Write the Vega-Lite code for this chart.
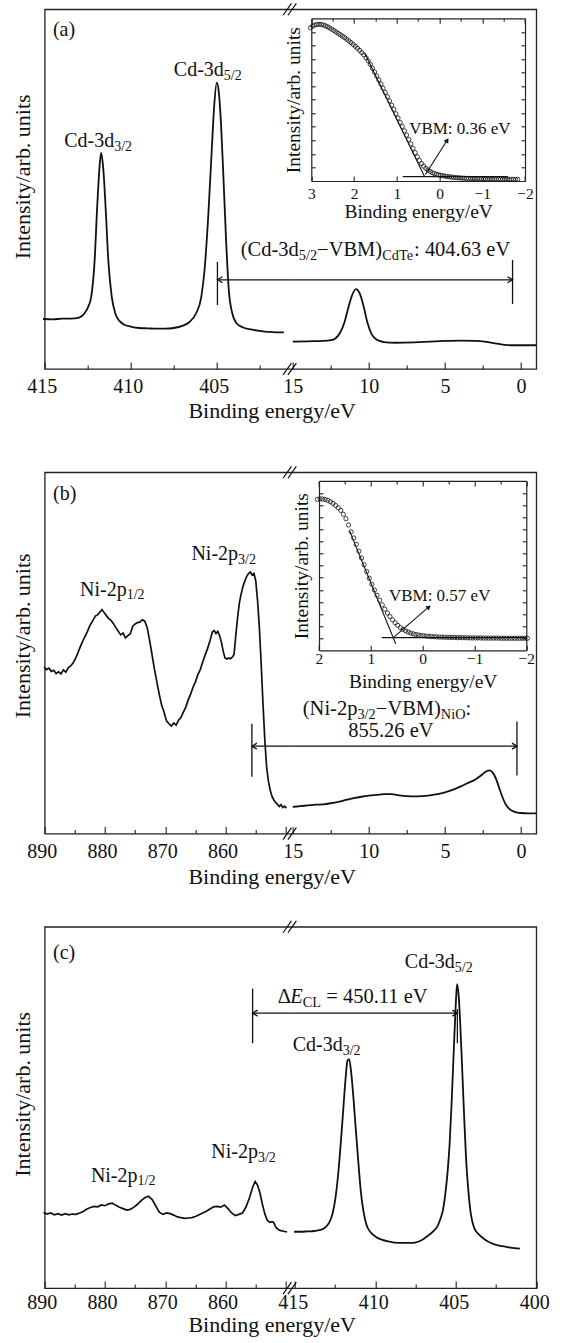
{
"$schema": "https://vega.github.io/schema/vega-lite/v6.json",
"padding": {"left": 10.7, "top": 0.3, "right": 5, "bottom": 5},
"config": {"font": "Liberation Serif", "view": {"stroke": "#222", "strokeWidth": 1.3},
 "axis": {"labelFont": "Liberation Serif", "titleFont": "Liberation Serif", "labelColor": "#111", "titleColor": "#111", "tickColor": "#222", "domainColor": "#222", "grid": false, "titleFontWeight": "normal", "labelFlush": false, "labelOverlap": false, "tickWidth": 1.1, "domainWidth": 1.2}},
"spacing": 29.5,
"vconcat": [
{"spacing": 40,
 "vconcat": [
{
 "width": 491.6, "height": 359.7,
 "resolve": {"scale": {"x": "independent", "y": "independent"}},
 "layer": [
  {"resolve": {"axis": {"x": "independent", "y": "independent"}},
   "layer": [
    {"data": {"values": [{"e":415.1,"i":13.9},{"e":414.5,"i":13.8},{"e":414.0,"i":14.0},{"e":413.5,"i":14.0},{"e":413.0,"i":14.3},{"e":412.7,"i":15.4},{"e":412.5,"i":17.0},{"e":412.3,"i":20},{"e":412.1,"i":30},{"e":411.95,"i":45},{"e":411.8,"i":57},{"e":411.72,"i":60.1},{"e":411.6,"i":56},{"e":411.45,"i":44},{"e":411.3,"i":30},{"e":411.1,"i":20},{"e":410.9,"i":15.5},{"e":410.7,"i":13.6},{"e":410.4,"i":12.4},{"e":410.0,"i":11.8},{"e":409.5,"i":11.4},{"e":409.0,"i":11.3},{"e":408.5,"i":11.2},{"e":408.0,"i":11.2},{"e":407.5,"i":11.4},{"e":407.0,"i":12.0},{"e":406.6,"i":13.0},{"e":406.2,"i":15.5},{"e":405.9,"i":20},{"e":405.7,"i":28},{"e":405.5,"i":42},{"e":405.3,"i":60},{"e":405.15,"i":73},{"e":405.0,"i":79.6},{"e":404.88,"i":77},{"e":404.75,"i":68},{"e":404.6,"i":52},{"e":404.45,"i":35},{"e":404.3,"i":22},{"e":404.1,"i":15.5},{"e":403.85,"i":12.7},{"e":403.5,"i":11.6},{"e":403.0,"i":11.0},{"e":402.5,"i":10.6},{"e":402.0,"i":10.3},{"e":401.5,"i":10.2},{"e":401.1,"i":10.2}]},
     "mark": {"type": "line", "interpolate": "monotone", "color": "#111", "strokeWidth": 1.8},
     "encoding": {
      "x": {"field": "e", "type": "quantitative", "scale": {"domain": [415, 400.76], "range": [0, 245], "nice": false, "zero": false},
            "axis": {"orient": "bottom", "values": [415,412.5,410,407.5,405,402.5], "format": "d", "labelExpr": "datum.value % 5 === 0 ? datum.label : ''", "tickSize": {"condition": {"test": "datum.value % 5 === 0", "value": -7}, "value": -4}, "domain": false, "labelFontSize": 20, "labelBaseline": "middle", "labelPadding": 24.7, "labelOffset": -3, "title": "Binding energy/eV", "titleFontSize": 22, "titleX": 227, "titleY": 42, "titleBaseline": "middle", "titleAlign": "center"}},
      "y": {"field": "i", "type": "quantitative", "scale": {"domain": [0, 100], "nice": false, "zero": false},
            "axis": {"orient": "left", "ticks": false, "labels": false, "domain": false, "title": "Intensity/arb. units", "titleFontSize": 22, "titleX": -22.3, "titleY": 167, "titleBaseline": "middle", "titleAlign": "center", "titleAngle": 270}}
     }},
    {"data": {"values": [{"e":414.52,"i":92.6,"t":"(a)"}]},
     "mark": {"type": "text", "fontSize": 20, "align": "left", "baseline": "alphabetic", "color": "#111"},
     "encoding": {"x": {"field": "e", "type": "quantitative", "scale": {"domain": [415, 400.76], "range": [0, 245], "nice": false, "zero": false}, "axis": null},
                  "y": {"field": "i", "type": "quantitative", "scale": {"domain": [0, 100], "nice": false, "zero": false}, "axis": null}, "text": {"field": "t"}}},
    {"data": {"values": [{"e":404.59,"i":81.5,"t":"Cd-3d"},{"e":410.96,"i":61.8,"t":"Cd-3d"}]},
     "mark": {"type": "text", "fontSize": 20, "align": "right", "baseline": "alphabetic", "color": "#111"},
     "encoding": {"x": {"field": "e", "type": "quantitative", "scale": {"domain": [415, 400.76], "range": [0, 245], "nice": false, "zero": false}, "axis": null},
                  "y": {"field": "i", "type": "quantitative", "scale": {"domain": [0, 100], "nice": false, "zero": false}, "axis": null}, "text": {"field": "t"}}},
    {"data": {"values": [{"e":404.59,"i":80.4,"t":"5/2"},{"e":410.96,"i":60.7,"t":"3/2"}]},
     "mark": {"type": "text", "fontSize": 14, "align": "left", "baseline": "alphabetic", "color": "#111"},
     "encoding": {"x": {"field": "e", "type": "quantitative", "scale": {"domain": [415, 400.76], "range": [0, 245], "nice": false, "zero": false}, "axis": null},
                  "y": {"field": "i", "type": "quantitative", "scale": {"domain": [0, 100], "nice": false, "zero": false}, "axis": null}, "text": {"field": "t"}}},
    {"data": {"values": [{"e":404.96,"e2":400.76,"i":24.8,"i2":24.8},{"e":404.96,"e2":404.96,"i":29.8,"i2":17.8}]},
     "mark": {"type": "rule", "color": "#111", "strokeWidth": 1.3},
     "encoding": {"x": {"field": "e", "type": "quantitative", "scale": {"domain": [415, 400.76], "range": [0, 245], "nice": false, "zero": false}, "axis": null}, "x2": {"field": "e2"},
                  "y": {"field": "i", "type": "quantitative", "scale": {"domain": [0, 100], "nice": false, "zero": false}, "axis": null}, "y2": {"field": "i2"}}},
    {"data": {"values": [{"e":404.96,"i":24.8}]},
     "mark": {"type": "point", "shape": "M1,-0.6L0,0L1,0.6", "filled": false, "stroke": "#111", "strokeWidth": 1.3, "size": 100, "opacity": 1},
     "encoding": {"x": {"field": "e", "type": "quantitative", "scale": {"domain": [415, 400.76], "range": [0, 245], "nice": false, "zero": false}, "axis": null},
                  "y": {"field": "i", "type": "quantitative", "scale": {"domain": [0, 100], "nice": false, "zero": false}, "axis": null}}},
    {"data": {"values": [{"e":400.76,"i":100},{"e":400.76,"i":0}]},
     "mark": {"type": "point", "shape": "M-0.95,0.85L0.25,-0.85M-0.25,0.85L0.95,-0.85", "filled": false, "stroke": "#111", "strokeWidth": 1.2, "size": 196, "opacity": 1},
     "encoding": {"x": {"field": "e", "type": "quantitative", "scale": {"domain": [415, 400.76], "range": [0, 245], "nice": false, "zero": false}, "axis": null},
                  "y": {"field": "i", "type": "quantitative", "scale": {"domain": [0, 100], "nice": false, "zero": false}, "axis": null}}}
  ]},
  {"resolve": {"axis": {"x": "independent", "y": "independent"}},
   "layer": [
    {"data": {"values": [{"e":15.0,"i":7.6},{"e":14.0,"i":7.7},{"e":13.0,"i":7.8},{"e":12.5,"i":8.0},{"e":12.2,"i":8.5},{"e":11.9,"i":10},{"e":11.6,"i":13},{"e":11.35,"i":17},{"e":11.1,"i":20.5},{"e":10.85,"i":22.2},{"e":10.6,"i":21},{"e":10.35,"i":17.5},{"e":10.1,"i":13},{"e":9.85,"i":10},{"e":9.6,"i":8.5},{"e":9.3,"i":7.8},{"e":9.0,"i":7.5},{"e":8.3,"i":7.3},{"e":7.0,"i":7.4},{"e":6.0,"i":7.6},{"e":5.0,"i":7.8},{"e":4.0,"i":7.9},{"e":3.0,"i":7.8},{"e":2.4,"i":7.6},{"e":1.8,"i":7.2},{"e":1.2,"i":6.8},{"e":0.5,"i":6.6},{"e":-1.0,"i":6.6}]},
     "mark": {"type": "line", "interpolate": "monotone", "color": "#111", "strokeWidth": 1.8},
     "encoding": {
      "x": {"field": "e", "type": "quantitative", "scale": {"domain": [15.2, -1], "range": [245, 491.6], "nice": false, "zero": false},
            "axis": {"orient": "bottom", "values": [15,12.5,10,7.5,5,2.5,0], "format": "d", "labelExpr": "datum.value % 5 === 0 ? datum.label : ''", "tickSize": {"condition": {"test": "datum.value % 5 === 0", "value": -7}, "value": -4}, "domain": false, "labelFontSize": 20, "labelBaseline": "middle", "labelPadding": 24.7, "title": null}},
      "y": {"field": "i", "type": "quantitative", "scale": {"domain": [0, 100], "nice": false, "zero": false}, "axis": null}
     }},
    {"data": {"values": [{"e":18.42,"i":31.4,"t":"(Cd-3d"},{"e":13.40,"i":31.4,"t":"−VBM)"},{"e":7.03,"i":31.4,"t":": 404.63 eV"}]},
     "mark": {"type": "text", "fontSize": 20.5, "align": "left", "baseline": "alphabetic", "color": "#111"},
     "encoding": {"x": {"field": "e", "type": "quantitative", "scale": {"domain": [15.2, -1], "range": [245, 491.6], "nice": false, "zero": false}, "axis": null},
                  "y": {"field": "i", "type": "quantitative", "scale": {"domain": [0, 100], "nice": false, "zero": false}, "axis": null}, "text": {"field": "t"}}},
    {"data": {"values": [{"e":14.60,"i":30.3,"t":"5/2"},{"e":9.12,"i":30.3,"t":"CdTe"}]},
     "mark": {"type": "text", "fontSize": 14.3, "align": "left", "baseline": "alphabetic", "color": "#111"},
     "encoding": {"x": {"field": "e", "type": "quantitative", "scale": {"domain": [15.2, -1], "range": [245, 491.6], "nice": false, "zero": false}, "axis": null},
                  "y": {"field": "i", "type": "quantitative", "scale": {"domain": [0, 100], "nice": false, "zero": false}, "axis": null}, "text": {"field": "t"}}},
    {"data": {"values": [{"e":15.2,"e2":0.56,"i":24.8,"i2":24.8},{"e":0.56,"e2":0.56,"i":30.3,"i2":18.1}]},
     "mark": {"type": "rule", "color": "#111", "strokeWidth": 1.3},
     "encoding": {"x": {"field": "e", "type": "quantitative", "scale": {"domain": [15.2, -1], "range": [245, 491.6], "nice": false, "zero": false}, "axis": null}, "x2": {"field": "e2"},
                  "y": {"field": "i", "type": "quantitative", "scale": {"domain": [0, 100], "nice": false, "zero": false}, "axis": null}, "y2": {"field": "i2"}}},
    {"data": {"values": [{"e":0.56,"i":24.8}]},
     "mark": {"type": "point", "shape": "M-1,-0.6L0,0L-1,0.6", "filled": false, "stroke": "#111", "strokeWidth": 1.3, "size": 100, "opacity": 1},
     "encoding": {"x": {"field": "e", "type": "quantitative", "scale": {"domain": [15.2, -1], "range": [245, 491.6], "nice": false, "zero": false}, "axis": null},
                  "y": {"field": "i", "type": "quantitative", "scale": {"domain": [0, 100], "nice": false, "zero": false}, "axis": null}}}
  ]},
  {"resolve": {"axis": {"x": "independent", "y": "independent"}},
   "layer": [
    {"data": {"values": [{"e":3.02,"i":0.942},{"e":2.97,"i":0.952},{"e":2.92,"i":0.958},{"e":2.87,"i":0.962},{"e":2.82,"i":0.963},{"e":2.77,"i":0.962},{"e":2.72,"i":0.959},{"e":2.67,"i":0.954},{"e":2.62,"i":0.948},{"e":2.57,"i":0.941},{"e":2.52,"i":0.933},{"e":2.47,"i":0.925},{"e":2.42,"i":0.916},{"e":2.37,"i":0.907},{"e":2.32,"i":0.899},{"e":2.27,"i":0.890},{"e":2.22,"i":0.881},{"e":2.17,"i":0.871},{"e":2.12,"i":0.861},{"e":2.07,"i":0.851},{"e":2.02,"i":0.839},{"e":1.97,"i":0.828},{"e":1.92,"i":0.816},{"e":1.87,"i":0.803},{"e":1.82,"i":0.789},{"e":1.77,"i":0.775},{"e":1.72,"i":0.758},{"e":1.67,"i":0.738},{"e":1.62,"i":0.717},{"e":1.57,"i":0.694},{"e":1.52,"i":0.670},{"e":1.47,"i":0.645},{"e":1.42,"i":0.621},{"e":1.37,"i":0.596},{"e":1.32,"i":0.570},{"e":1.27,"i":0.544},{"e":1.22,"i":0.518},{"e":1.17,"i":0.492},{"e":1.12,"i":0.466},{"e":1.07,"i":0.441},{"e":1.02,"i":0.413},{"e":0.97,"i":0.387},{"e":0.92,"i":0.360},{"e":0.87,"i":0.335},{"e":0.82,"i":0.308},{"e":0.77,"i":0.282},{"e":0.72,"i":0.255},{"e":0.67,"i":0.228},{"e":0.62,"i":0.201},{"e":0.57,"i":0.174},{"e":0.52,"i":0.149},{"e":0.47,"i":0.126},{"e":0.42,"i":0.107},{"e":0.37,"i":0.091},{"e":0.32,"i":0.078},{"e":0.27,"i":0.068},{"e":0.22,"i":0.059},{"e":0.17,"i":0.051},{"e":0.12,"i":0.046},{"e":0.07,"i":0.041},{"e":0.02,"i":0.038},{"e":-0.03,"i":0.035},{"e":-0.08,"i":0.032},{"e":-0.13,"i":0.030},{"e":-0.18,"i":0.028},{"e":-0.23,"i":0.026},{"e":-0.28,"i":0.024},{"e":-0.33,"i":0.022},{"e":-0.38,"i":0.021},{"e":-0.43,"i":0.020},{"e":-0.48,"i":0.019},{"e":-0.53,"i":0.018},{"e":-0.58,"i":0.017},{"e":-0.63,"i":0.016},{"e":-0.68,"i":0.016},{"e":-0.73,"i":0.015},{"e":-0.78,"i":0.015},{"e":-0.83,"i":0.014},{"e":-0.88,"i":0.014},{"e":-0.93,"i":0.013},{"e":-0.98,"i":0.013},{"e":-1.03,"i":0.012},{"e":-1.08,"i":0.012},{"e":-1.13,"i":0.012},{"e":-1.18,"i":0.012},{"e":-1.23,"i":0.011},{"e":-1.28,"i":0.011},{"e":-1.33,"i":0.011},{"e":-1.38,"i":0.011},{"e":-1.43,"i":0.011},{"e":-1.48,"i":0.010},{"e":-1.53,"i":0.010},{"e":-1.58,"i":0.010},{"e":-1.63,"i":0.010},{"e":-1.68,"i":0.010},{"e":-1.73,"i":0.010},{"e":-1.78,"i":0.010},{"e":-1.83,"i":0.010}]},
     "mark": {"type": "point", "shape": "circle", "filled": false, "stroke": "#111", "strokeWidth": 0.8, "size": 18, "opacity": 1},
     "encoding": {
      "x": {"field": "e", "type": "quantitative", "scale": {"domain": [3, -2], "range": [266.6, 480.3], "nice": false, "zero": false},
            "axis": {"orient": "bottom", "offset": -188, "values": [3,2.5,2,1.5,1,0.5,0,-0.5,-1,-1.5,-2], "format": "d", "labelExpr": "datum.value % 1 === 0 ? datum.label : ''", "tickSize": {"condition": {"test": "datum.value % 1 === 0", "value": -5}, "value": -3}, "domain": true, "labelFontSize": 15.5, "labelBaseline": "middle", "labelPadding": 17, "title": "Binding energy/eV", "titleFontSize": 19.5, "titleY": 30.7, "titleBaseline": "middle"}},
      "y": {"field": "i", "type": "quantitative", "scale": {"domain": [0, 1], "range": [171.7, 9], "nice": false, "zero": false},
            "axis": {"orient": "left", "offset": -266.6, "values": [0.0833,0.1667,0.25,0.3333,0.4167,0.5,0.5833,0.6667,0.75,0.8333,0.9167], "tickSize": -4, "labels": false, "domain": true, "title": "Intensity/arb. units", "titleFontSize": 19.5, "titleX": -17.3, "titleBaseline": "middle", "titleAngle": 270}}
     }},
    {"data": {"values": [{"e":1.75,"e2":0.35,"i":0.785,"i2":0.027},{"e":0.86,"e2":-1.6,"i":0.027,"i2":0.027},{"e":0.33,"e2":-0.18,"i":0.04,"i2":0.25}]},
     "mark": {"type": "rule", "color": "#111", "strokeWidth": 1.1},
     "encoding": {
      "x": {"field": "e", "type": "quantitative", "scale": {"domain": [3, -2], "range": [266.6, 480.3], "nice": false, "zero": false},
            "axis": {"orient": "top", "offset": -9, "values": [3,2.5,2,1.5,1,0.5,0,-0.5,-1,-1.5,-2], "tickSize": {"condition": {"test": "datum.value % 1 === 0", "value": -5}, "value": -3}, "labels": false, "domain": true, "title": null}},
      "x2": {"field": "e2"},
      "y": {"field": "i", "type": "quantitative", "scale": {"domain": [0, 1], "range": [171.7, 9], "nice": false, "zero": false},
            "axis": {"orient": "right", "offset": -11.3, "values": [0.0833,0.1667,0.25,0.3333,0.4167,0.5,0.5833,0.6667,0.75,0.8333,0.9167], "tickSize": -4, "labels": false, "domain": true, "title": null}},
      "y2": {"field": "i2"}
     }},
    {"data": {"values": [{"e":-0.18,"i":0.25}]},
     "mark": {"type": "point", "shape": "triangle-up", "filled": true, "color": "#111", "size": 30, "angle": 32.5, "opacity": 1},
     "encoding": {"x": {"field": "e", "type": "quantitative", "scale": {"domain": [3, -2], "range": [266.6, 480.3], "nice": false, "zero": false}, "axis": null},
                  "y": {"field": "i", "type": "quantitative", "scale": {"domain": [0, 1], "range": [171.7, 9], "nice": false, "zero": false}, "axis": null}}},
    {"data": {"values": [{"e":0.71,"i":0.29,"t":"VBM: 0.36 eV"}]},
     "mark": {"type": "text", "fontSize": 17, "align": "left", "baseline": "alphabetic", "color": "#111"},
     "encoding": {"x": {"field": "e", "type": "quantitative", "scale": {"domain": [3, -2], "range": [266.6, 480.3], "nice": false, "zero": false}, "axis": null},
                  "y": {"field": "i", "type": "quantitative", "scale": {"domain": [0, 1], "range": [171.7, 9], "nice": false, "zero": false}, "axis": null}, "text": {"field": "t"}}}
  ]}
 ]
},
{
 "width": 491.6, "height": 361.3,
 "resolve": {"scale": {"x": "independent", "y": "independent"}},
 "layer": [
  {"resolve": {"axis": {"x": "independent", "y": "independent"}},
   "layer": [
    {"data": {"values": [{"e":890.1,"i":46.1},{"e":889.7,"i":45.4},{"e":889.3,"i":45.8},{"e":888.9,"i":44.9},{"e":888.5,"i":45.2},{"e":888.1,"i":44.3},{"e":887.7,"i":44.8},{"e":887.3,"i":44.2},{"e":886.9,"i":45.3},{"e":886.5,"i":44.7},{"e":886.1,"i":45.9},{"e":885.7,"i":46.4},{"e":885.3,"i":47.2},{"e":884.9,"i":48.4},{"e":884.5,"i":50.0},{"e":884.0,"i":52.1},{"e":883.5,"i":54.0},{"e":883.0,"i":55.6},{"e":882.5,"i":57.6},{"e":882.0,"i":59.0},{"e":881.6,"i":60.2},{"e":881.2,"i":60.6},{"e":880.8,"i":61.4},{"e":880.5,"i":62.0},{"e":880.2,"i":61.3},{"e":879.8,"i":60.4},{"e":879.4,"i":59.5},{"e":879.0,"i":59.0},{"e":878.6,"i":58.1},{"e":878.2,"i":57.0},{"e":877.8,"i":56.0},{"e":877.4,"i":55.0},{"e":877.0,"i":55.5},{"e":876.6,"i":54.2},{"e":876.2,"i":54.8},{"e":875.8,"i":55.3},{"e":875.4,"i":57.4},{"e":875.0,"i":58.0},{"e":874.6,"i":58.4},{"e":874.2,"i":58.6},{"e":873.8,"i":59.2},{"e":873.4,"i":58.8},{"e":873.0,"i":57.0},{"e":872.6,"i":53.5},{"e":872.2,"i":49.5},{"e":871.8,"i":45.5},{"e":871.4,"i":42.0},{"e":871.0,"i":38.5},{"e":870.6,"i":35.5},{"e":870.2,"i":33.6},{"e":869.8,"i":31.2},{"e":869.4,"i":30.4},{"e":869.0,"i":29.8},{"e":868.6,"i":30.6},{"e":868.2,"i":30.0},{"e":867.8,"i":31.4},{"e":867.4,"i":32.2},{"e":867.0,"i":33.6},{"e":866.6,"i":35.0},{"e":866.2,"i":37.0},{"e":865.8,"i":38.6},{"e":865.4,"i":40.5},{"e":865.0,"i":42.0},{"e":864.6,"i":44.0},{"e":864.2,"i":45.4},{"e":863.8,"i":47.5},{"e":863.4,"i":49.4},{"e":863.0,"i":51.2},{"e":862.6,"i":53.3},{"e":862.2,"i":55.8},{"e":861.9,"i":56.2},{"e":861.6,"i":55.4},{"e":861.3,"i":56.0},{"e":861.0,"i":54.8},{"e":860.7,"i":53.0},{"e":860.4,"i":50.5},{"e":860.1,"i":48.6},{"e":859.8,"i":48.3},{"e":859.5,"i":48.6},{"e":859.2,"i":48.4},{"e":858.9,"i":48.8},{"e":858.6,"i":49.6},{"e":858.3,"i":55.0},{"e":858.0,"i":60.0},{"e":857.7,"i":64.0},{"e":857.4,"i":66.5},{"e":857.1,"i":68.5},{"e":856.8,"i":70.0},{"e":856.5,"i":71.2},{"e":856.2,"i":72.0},{"e":855.9,"i":72.4},{"e":855.6,"i":71.6},{"e":855.3,"i":72.0},{"e":855.0,"i":70.0},{"e":854.7,"i":64.5},{"e":854.4,"i":57.0},{"e":854.1,"i":47.0},{"e":853.8,"i":36.0},{"e":853.5,"i":26.0},{"e":853.2,"i":18.5},{"e":852.9,"i":14.5},{"e":852.6,"i":12.0},{"e":852.3,"i":10.3},{"e":852.0,"i":9.3},{"e":851.7,"i":8.6},{"e":851.4,"i":8.1},{"e":851.1,"i":7.5},{"e":850.8,"i":8.0},{"e":850.5,"i":7.2},{"e":850.2,"i":7.6},{"e":849.9,"i":7.0}]},
     "mark": {"type": "line", "interpolate": "linear", "color": "#111", "strokeWidth": 1.7},
     "encoding": {
      "x": {"field": "e", "type": "quantitative", "scale": {"domain": [890, 849.37], "range": [0, 245], "nice": false, "zero": false},
            "axis": {"orient": "bottom", "values": [890,885,880,875,870,865,860,855,850], "format": "d", "labelExpr": "datum.value % 10 === 0 && datum.value > 855 ? datum.label : ''", "tickSize": {"condition": {"test": "datum.value % 10 === 0", "value": -7}, "value": -4}, "domain": false, "labelFontSize": 20, "labelBaseline": "middle", "labelPadding": 25, "labelOffset": -3, "title": "Binding energy/eV", "titleFontSize": 22, "titleX": 227, "titleY": 43, "titleBaseline": "middle", "titleAlign": "center"}},
      "y": {"field": "i", "type": "quantitative", "scale": {"domain": [0, 100], "nice": false, "zero": false},
            "axis": {"orient": "left", "ticks": false, "labels": false, "domain": false, "title": "Intensity/arb. units", "titleFontSize": 22, "titleX": -22.3, "titleY": 163, "titleBaseline": "middle", "titleAlign": "center", "titleAngle": 270}}
     }},
    {"data": {"values": [{"e":888.62,"i":92.4,"t":"(b)"}]},
     "mark": {"type": "text", "fontSize": 20, "align": "left", "baseline": "alphabetic", "color": "#111"},
     "encoding": {"x": {"field": "e", "type": "quantitative", "scale": {"domain": [890, 849.37], "range": [0, 245], "nice": false, "zero": false}, "axis": null},
                  "y": {"field": "i", "type": "quantitative", "scale": {"domain": [0, 100], "nice": false, "zero": false}, "axis": null}, "text": {"field": "t"}}},
    {"data": {"values": [{"e":857.94,"i":75.6,"t":"Ni-2p"},{"e":876.4,"i":65.9,"t":"Ni-2p"}]},
     "mark": {"type": "text", "fontSize": 20, "align": "right", "baseline": "alphabetic", "color": "#111"},
     "encoding": {"x": {"field": "e", "type": "quantitative", "scale": {"domain": [890, 849.37], "range": [0, 245], "nice": false, "zero": false}, "axis": null},
                  "y": {"field": "i", "type": "quantitative", "scale": {"domain": [0, 100], "nice": false, "zero": false}, "axis": null}, "text": {"field": "t"}}},
    {"data": {"values": [{"e":857.94,"i":74.5,"t":"3/2"},{"e":876.4,"i":64.8,"t":"1/2"}]},
     "mark": {"type": "text", "fontSize": 14, "align": "left", "baseline": "alphabetic", "color": "#111"},
     "encoding": {"x": {"field": "e", "type": "quantitative", "scale": {"domain": [890, 849.37], "range": [0, 245], "nice": false, "zero": false}, "axis": null},
                  "y": {"field": "i", "type": "quantitative", "scale": {"domain": [0, 100], "nice": false, "zero": false}, "axis": null}, "text": {"field": "t"}}},
    {"data": {"values": [{"e":855.64,"e2":849.37,"i":24.2,"i2":24.2},{"e":855.64,"e2":855.64,"i":30.4,"i2":15.7}]},
     "mark": {"type": "rule", "color": "#111", "strokeWidth": 1.3},
     "encoding": {"x": {"field": "e", "type": "quantitative", "scale": {"domain": [890, 849.37], "range": [0, 245], "nice": false, "zero": false}, "axis": null}, "x2": {"field": "e2"},
                  "y": {"field": "i", "type": "quantitative", "scale": {"domain": [0, 100], "nice": false, "zero": false}, "axis": null}, "y2": {"field": "i2"}}},
    {"data": {"values": [{"e":855.64,"i":24.2}]},
     "mark": {"type": "point", "shape": "M1,-0.6L0,0L1,0.6", "filled": false, "stroke": "#111", "strokeWidth": 1.3, "size": 100, "opacity": 1},
     "encoding": {"x": {"field": "e", "type": "quantitative", "scale": {"domain": [890, 849.37], "range": [0, 245], "nice": false, "zero": false}, "axis": null},
                  "y": {"field": "i", "type": "quantitative", "scale": {"domain": [0, 100], "nice": false, "zero": false}, "axis": null}}},
    {"data": {"values": [{"e":849.37,"i":100},{"e":849.37,"i":0}]},
     "mark": {"type": "point", "shape": "M-0.95,0.85L0.25,-0.85M-0.25,0.85L0.95,-0.85", "filled": false, "stroke": "#111", "strokeWidth": 1.2, "size": 196, "opacity": 1},
     "encoding": {"x": {"field": "e", "type": "quantitative", "scale": {"domain": [890, 849.37], "range": [0, 245], "nice": false, "zero": false}, "axis": null},
                  "y": {"field": "i", "type": "quantitative", "scale": {"domain": [0, 100], "nice": false, "zero": false}, "axis": null}}}
  ]},
  {"resolve": {"axis": {"x": "independent", "y": "independent"}},
   "layer": [
    {"data": {"values": [{"e":15.0,"i":7.4},{"e":14.5,"i":7.6},{"e":14.0,"i":7.8},{"e":13.5,"i":8.0},{"e":13.0,"i":8.1},{"e":12.5,"i":8.4},{"e":12.0,"i":8.8},{"e":11.5,"i":9.3},{"e":11.0,"i":9.8},{"e":10.5,"i":10.2},{"e":10.0,"i":10.5},{"e":9.5,"i":10.7},{"e":9.0,"i":10.9},{"e":8.5,"i":10.9},{"e":8.0,"i":10.6},{"e":7.5,"i":10.4},{"e":7.0,"i":10.3},{"e":6.5,"i":10.4},{"e":6.0,"i":10.6},{"e":5.5,"i":10.9},{"e":5.0,"i":11.4},{"e":4.5,"i":12.1},{"e":4.0,"i":13.0},{"e":3.5,"i":14.0},{"e":3.0,"i":15.0},{"e":2.6,"i":16.2},{"e":2.3,"i":17.2},{"e":2.05,"i":17.5},{"e":1.85,"i":16.8},{"e":1.65,"i":15.2},{"e":1.45,"i":12.8},{"e":1.25,"i":10.4},{"e":1.05,"i":8.4},{"e":0.85,"i":7.2},{"e":0.6,"i":6.3},{"e":0.3,"i":5.9},{"e":0.0,"i":5.7},{"e":-0.5,"i":5.6},{"e":-1.0,"i":5.6}]},
     "mark": {"type": "line", "interpolate": "monotone", "color": "#111", "strokeWidth": 1.8},
     "encoding": {
      "x": {"field": "e", "type": "quantitative", "scale": {"domain": [15.2, -1], "range": [245, 491.6], "nice": false, "zero": false},
            "axis": {"orient": "bottom", "values": [15,12.5,10,7.5,5,2.5,0], "format": "d", "labelExpr": "datum.value % 5 === 0 ? datum.label : ''", "tickSize": {"condition": {"test": "datum.value % 5 === 0", "value": -7}, "value": -4}, "domain": false, "labelFontSize": 20, "labelBaseline": "middle", "labelPadding": 25, "title": null}},
      "y": {"field": "i", "type": "quantitative", "scale": {"domain": [0, 100], "nice": false, "zero": false}, "axis": null}
     }},
    {"data": {"values": [{"e":14.34,"i":32.9,"t":"(Ni-2p"},{"e":9.54,"i":32.9,"t":"−VBM)"},{"e":3.65,"i":32.9,"t":":"}]},
     "mark": {"type": "text", "fontSize": 20.5, "align": "left", "baseline": "alphabetic", "color": "#111"},
     "encoding": {"x": {"field": "e", "type": "quantitative", "scale": {"domain": [15.2, -1], "range": [245, 491.6], "nice": false, "zero": false}, "axis": null},
                  "y": {"field": "i", "type": "quantitative", "scale": {"domain": [0, 100], "nice": false, "zero": false}, "axis": null}, "text": {"field": "t"}}},
    {"data": {"values": [{"e":8.55,"i":26.6,"t":"855.26 eV"}]},
     "mark": {"type": "text", "fontSize": 20.5, "align": "center", "baseline": "alphabetic", "color": "#111"},
     "encoding": {"x": {"field": "e", "type": "quantitative", "scale": {"domain": [15.2, -1], "range": [245, 491.6], "nice": false, "zero": false}, "axis": null},
                  "y": {"field": "i", "type": "quantitative", "scale": {"domain": [0, 100], "nice": false, "zero": false}, "axis": null}, "text": {"field": "t"}}},
    {"data": {"values": [{"e":10.75,"i":31.8,"t":"3/2"},{"e":5.27,"i":31.8,"t":"NiO"}]},
     "mark": {"type": "text", "fontSize": 14.3, "align": "left", "baseline": "alphabetic", "color": "#111"},
     "encoding": {"x": {"field": "e", "type": "quantitative", "scale": {"domain": [15.2, -1], "range": [245, 491.6], "nice": false, "zero": false}, "axis": null},
                  "y": {"field": "i", "type": "quantitative", "scale": {"domain": [0, 100], "nice": false, "zero": false}, "axis": null}, "text": {"field": "t"}}},
    {"data": {"values": [{"e":15.2,"e2":0.27,"i":24.2,"i2":24.2},{"e":0.27,"e2":0.27,"i":31.0,"i2":16.1}]},
     "mark": {"type": "rule", "color": "#111", "strokeWidth": 1.3},
     "encoding": {"x": {"field": "e", "type": "quantitative", "scale": {"domain": [15.2, -1], "range": [245, 491.6], "nice": false, "zero": false}, "axis": null}, "x2": {"field": "e2"},
                  "y": {"field": "i", "type": "quantitative", "scale": {"domain": [0, 100], "nice": false, "zero": false}, "axis": null}, "y2": {"field": "i2"}}},
    {"data": {"values": [{"e":0.27,"i":24.2}]},
     "mark": {"type": "point", "shape": "M-1,-0.6L0,0L-1,0.6", "filled": false, "stroke": "#111", "strokeWidth": 1.3, "size": 100, "opacity": 1},
     "encoding": {"x": {"field": "e", "type": "quantitative", "scale": {"domain": [15.2, -1], "range": [245, 491.6], "nice": false, "zero": false}, "axis": null},
                  "y": {"field": "i", "type": "quantitative", "scale": {"domain": [0, 100], "nice": false, "zero": false}, "axis": null}}}
  ]},
  {"resolve": {"axis": {"x": "independent", "y": "independent"}},
   "layer": [
    {"data": {"values": [{"e":2.03,"i":0.891},{"e":1.98,"i":0.894},{"e":1.93,"i":0.893},{"e":1.88,"i":0.890},{"e":1.83,"i":0.885},{"e":1.78,"i":0.877},{"e":1.73,"i":0.867},{"e":1.68,"i":0.855},{"e":1.63,"i":0.841},{"e":1.58,"i":0.826},{"e":1.53,"i":0.803},{"e":1.48,"i":0.777},{"e":1.43,"i":0.740},{"e":1.38,"i":0.700},{"e":1.33,"i":0.663},{"e":1.28,"i":0.625},{"e":1.23,"i":0.585},{"e":1.18,"i":0.545},{"e":1.13,"i":0.505},{"e":1.08,"i":0.465},{"e":1.03,"i":0.425},{"e":0.98,"i":0.390},{"e":0.93,"i":0.356},{"e":0.88,"i":0.325},{"e":0.83,"i":0.296},{"e":0.78,"i":0.268},{"e":0.73,"i":0.243},{"e":0.68,"i":0.220},{"e":0.63,"i":0.199},{"e":0.58,"i":0.180},{"e":0.53,"i":0.162},{"e":0.48,"i":0.147},{"e":0.43,"i":0.134},{"e":0.38,"i":0.124},{"e":0.33,"i":0.115},{"e":0.28,"i":0.108},{"e":0.23,"i":0.102},{"e":0.18,"i":0.097},{"e":0.13,"i":0.093},{"e":0.08,"i":0.090},{"e":0.03,"i":0.087},{"e":-0.02,"i":0.086},{"e":-0.07,"i":0.084},{"e":-0.12,"i":0.083},{"e":-0.17,"i":0.081},{"e":-0.22,"i":0.080},{"e":-0.27,"i":0.079},{"e":-0.32,"i":0.078},{"e":-0.37,"i":0.078},{"e":-0.42,"i":0.077},{"e":-0.47,"i":0.077},{"e":-0.52,"i":0.076},{"e":-0.57,"i":0.076},{"e":-0.62,"i":0.075},{"e":-0.67,"i":0.075},{"e":-0.72,"i":0.075},{"e":-0.77,"i":0.074},{"e":-0.82,"i":0.074},{"e":-0.87,"i":0.074},{"e":-0.92,"i":0.073},{"e":-0.97,"i":0.073},{"e":-1.02,"i":0.073},{"e":-1.07,"i":0.073},{"e":-1.12,"i":0.073},{"e":-1.17,"i":0.072},{"e":-1.22,"i":0.072},{"e":-1.27,"i":0.072},{"e":-1.32,"i":0.072},{"e":-1.37,"i":0.072},{"e":-1.42,"i":0.072},{"e":-1.47,"i":0.072},{"e":-1.52,"i":0.071},{"e":-1.57,"i":0.071},{"e":-1.62,"i":0.071},{"e":-1.67,"i":0.071},{"e":-1.72,"i":0.071},{"e":-1.77,"i":0.071},{"e":-1.82,"i":0.071},{"e":-1.87,"i":0.071},{"e":-1.92,"i":0.071},{"e":-1.97,"i":0.071},{"e":-2.02,"i":0.071}]},
     "mark": {"type": "point", "shape": "circle", "filled": false, "stroke": "#111", "strokeWidth": 0.8, "size": 18, "opacity": 1},
     "encoding": {
      "x": {"field": "e", "type": "quantitative", "scale": {"domain": [2, -2], "range": [274.3, 481.6], "nice": false, "zero": false},
            "axis": {"orient": "bottom", "offset": -183.3, "values": [2,1.5,1,0.5,0,-0.5,-1,-1.5,-2], "format": "d", "labelExpr": "datum.value % 1 === 0 ? datum.label : ''", "tickSize": {"condition": {"test": "datum.value % 1 === 0", "value": -5}, "value": -3}, "domain": true, "labelFontSize": 15.5, "labelBaseline": "middle", "labelPadding": 13, "title": "Binding energy/eV", "titleFontSize": 19.5, "titleY": 31.6, "titleBaseline": "middle"}},
      "y": {"field": "i", "type": "quantitative", "scale": {"domain": [0, 1], "range": [178, 8.6], "nice": false, "zero": false},
            "axis": {"orient": "left", "offset": -274.3, "values": [0.0714,0.1429,0.2143,0.2857,0.3571,0.4286,0.5,0.5714,0.6429,0.7143,0.7857,0.8571,0.9286], "tickSize": -4, "labels": false, "domain": true, "title": "Intensity/arb. units", "titleFontSize": 19.5, "titleX": -17, "titleBaseline": "middle", "titleAngle": 270}}
     }},
    {"data": {"values": [{"e":1.41,"e2":0.52,"i":0.705,"i2":0.039},{"e":0.79,"e2":-2.0,"i":0.075,"i2":0.075},{"e":0.55,"e2":-0.12,"i":0.079,"i2":0.256}]},
     "mark": {"type": "rule", "color": "#111", "strokeWidth": 1.1},
     "encoding": {
      "x": {"field": "e", "type": "quantitative", "scale": {"domain": [2, -2], "range": [274.3, 481.6], "nice": false, "zero": false},
            "axis": {"orient": "top", "offset": -8.6, "values": [2,1.5,1,0.5,0,-0.5,-1,-1.5,-2], "tickSize": {"condition": {"test": "datum.value % 1 === 0", "value": -5}, "value": -3}, "labels": false, "domain": true, "title": null}},
      "x2": {"field": "e2"},
      "y": {"field": "i", "type": "quantitative", "scale": {"domain": [0, 1], "range": [178, 8.6], "nice": false, "zero": false},
            "axis": {"orient": "right", "offset": -10, "values": [0.0714,0.1429,0.2143,0.2857,0.3571,0.4286,0.5,0.5714,0.6429,0.7143,0.7857,0.8571,0.9286], "tickSize": -4, "labels": false, "domain": true, "title": null}},
      "y2": {"field": "i2"}
     }},
    {"data": {"values": [{"e":-0.12,"i":0.256}]},
     "mark": {"type": "point", "shape": "triangle-up", "filled": true, "color": "#111", "size": 30, "angle": 49, "opacity": 1},
     "encoding": {"x": {"field": "e", "type": "quantitative", "scale": {"domain": [2, -2], "range": [274.3, 481.6], "nice": false, "zero": false}, "axis": null},
                  "y": {"field": "i", "type": "quantitative", "scale": {"domain": [0, 1], "range": [178, 8.6], "nice": false, "zero": false}, "axis": null}}},
    {"data": {"values": [{"e":0.65,"i":0.293,"t":"VBM: 0.57 eV"}]},
     "mark": {"type": "text", "fontSize": 17, "align": "left", "baseline": "alphabetic", "color": "#111"},
     "encoding": {"x": {"field": "e", "type": "quantitative", "scale": {"domain": [2, -2], "range": [274.3, 481.6], "nice": false, "zero": false}, "axis": null},
                  "y": {"field": "i", "type": "quantitative", "scale": {"domain": [0, 1], "range": [178, 8.6], "nice": false, "zero": false}, "axis": null}, "text": {"field": "t"}}}
  ]}
 ]
}
]},
{
 "width": 491.6, "height": 361.3,
 "resolve": {"scale": {"x": "independent", "y": "independent"}},
 "layer": [
  {"resolve": {"axis": {"x": "independent", "y": "independent"}},
   "layer": [
    {"data": {"values": [{"e":890.2,"i":20.9},{"e":889.6,"i":20.5},{"e":889.0,"i":20.8},{"e":888.4,"i":20.3},{"e":887.8,"i":20.6},{"e":887.2,"i":20.2},{"e":886.6,"i":20.6},{"e":886.0,"i":20.3},{"e":885.4,"i":20.5},{"e":884.8,"i":20.4},{"e":884.2,"i":20.8},{"e":883.6,"i":21.2},{"e":883.0,"i":21.9},{"e":882.4,"i":22.3},{"e":881.8,"i":22.6},{"e":881.2,"i":22.5},{"e":880.6,"i":23.0},{"e":880.0,"i":22.8},{"e":879.4,"i":23.3},{"e":878.8,"i":23.5},{"e":878.2,"i":22.9},{"e":877.6,"i":22.4},{"e":877.0,"i":22.0},{"e":876.4,"i":21.6},{"e":875.8,"i":21.8},{"e":875.2,"i":22.4},{"e":874.6,"i":23.2},{"e":874.0,"i":24.2},{"e":873.4,"i":25.0},{"e":872.8,"i":25.4},{"e":872.2,"i":24.6},{"e":871.6,"i":22.8},{"e":871.0,"i":21.0},{"e":870.4,"i":20.4},{"e":869.8,"i":20.8},{"e":869.2,"i":20.6},{"e":868.6,"i":20.2},{"e":868.0,"i":19.7},{"e":867.4,"i":19.5},{"e":866.8,"i":19.3},{"e":866.2,"i":19.4},{"e":865.6,"i":19.5},{"e":865.0,"i":19.8},{"e":864.4,"i":20.3},{"e":863.8,"i":20.8},{"e":863.2,"i":21.3},{"e":862.6,"i":21.9},{"e":862.0,"i":22.5},{"e":861.4,"i":22.6},{"e":860.8,"i":22.4},{"e":860.2,"i":23.0},{"e":859.6,"i":22.0},{"e":859.0,"i":20.8},{"e":858.4,"i":20.1},{"e":857.8,"i":20.4},{"e":857.2,"i":20.8},{"e":856.6,"i":22.5},{"e":856.0,"i":25.2},{"e":855.5,"i":28.0},{"e":855.1,"i":29.5},{"e":854.7,"i":28.5},{"e":854.3,"i":26.3},{"e":853.9,"i":23.2},{"e":853.5,"i":20.6},{"e":853.1,"i":18.8},{"e":852.7,"i":18.2},{"e":852.3,"i":18.4},{"e":852.0,"i":18.1},{"e":851.7,"i":16.9},{"e":851.3,"i":16.3},{"e":850.9,"i":15.9},{"e":850.5,"i":15.8},{"e":850.1,"i":15.6},{"e":849.8,"i":15.6}]},
     "mark": {"type": "line", "interpolate": "linear", "color": "#111", "strokeWidth": 1.7},
     "encoding": {
      "x": {"field": "e", "type": "quantitative", "scale": {"domain": [890, 849.37], "range": [0, 245], "nice": false, "zero": false},
            "axis": {"orient": "bottom", "values": [890,885,880,875,870,865,860,855,850], "format": "d", "labelExpr": "datum.value % 10 === 0 && datum.value > 855 ? datum.label : ''", "tickSize": {"condition": {"test": "datum.value % 10 === 0", "value": -7}, "value": -4}, "domain": false, "labelFontSize": 20, "labelBaseline": "middle", "labelPadding": 21.5, "labelOffset": -3, "title": "Binding energy/eV", "titleFontSize": 22, "titleX": 227, "titleY": 36, "titleBaseline": "middle", "titleAlign": "center"}},
      "y": {"field": "i", "type": "quantitative", "scale": {"domain": [0, 100], "nice": false, "zero": false},
            "axis": {"orient": "left", "ticks": false, "labels": false, "domain": false, "title": "Intensity/arb. units", "titleFontSize": 22, "titleX": -22.3, "titleY": 167, "titleBaseline": "middle", "titleAlign": "center", "titleAngle": 270}}
     }},
    {"data": {"values": [{"e":888.62,"i":91.2,"t":"(c)"}]},
     "mark": {"type": "text", "fontSize": 20, "align": "left", "baseline": "alphabetic", "color": "#111"},
     "encoding": {"x": {"field": "e", "type": "quantitative", "scale": {"domain": [890, 849.37], "range": [0, 245], "nice": false, "zero": false}, "axis": null},
                  "y": {"field": "i", "type": "quantitative", "scale": {"domain": [0, 100], "nice": false, "zero": false}, "axis": null}, "text": {"field": "t"}}},
    {"data": {"values": [{"e":854.63,"i":35.9,"t":"Ni-2p"},{"e":874.61,"i":29.5,"t":"Ni-2p"}]},
     "mark": {"type": "text", "fontSize": 20, "align": "right", "baseline": "alphabetic", "color": "#111"},
     "encoding": {"x": {"field": "e", "type": "quantitative", "scale": {"domain": [890, 849.37], "range": [0, 245], "nice": false, "zero": false}, "axis": null},
                  "y": {"field": "i", "type": "quantitative", "scale": {"domain": [0, 100], "nice": false, "zero": false}, "axis": null}, "text": {"field": "t"}}},
    {"data": {"values": [{"e":854.63,"i":34.8,"t":"3/2"},{"e":874.61,"i":28.4,"t":"1/2"}]},
     "mark": {"type": "text", "fontSize": 14, "align": "left", "baseline": "alphabetic", "color": "#111"},
     "encoding": {"x": {"field": "e", "type": "quantitative", "scale": {"domain": [890, 849.37], "range": [0, 245], "nice": false, "zero": false}, "axis": null},
                  "y": {"field": "i", "type": "quantitative", "scale": {"domain": [0, 100], "nice": false, "zero": false}, "axis": null}, "text": {"field": "t"}}},
    {"data": {"values": [{"e":855.52,"e2":849.37,"i":76.1,"i2":76.1},{"e":855.52,"e2":855.52,"i":82.9,"i2":67.8}]},
     "mark": {"type": "rule", "color": "#111", "strokeWidth": 1.3},
     "encoding": {"x": {"field": "e", "type": "quantitative", "scale": {"domain": [890, 849.37], "range": [0, 245], "nice": false, "zero": false}, "axis": null}, "x2": {"field": "e2"},
                  "y": {"field": "i", "type": "quantitative", "scale": {"domain": [0, 100], "nice": false, "zero": false}, "axis": null}, "y2": {"field": "i2"}}},
    {"data": {"values": [{"e":855.52,"i":76.1}]},
     "mark": {"type": "point", "shape": "M1,-0.6L0,0L1,0.6", "filled": false, "stroke": "#111", "strokeWidth": 1.3, "size": 100, "opacity": 1},
     "encoding": {"x": {"field": "e", "type": "quantitative", "scale": {"domain": [890, 849.37], "range": [0, 245], "nice": false, "zero": false}, "axis": null},
                  "y": {"field": "i", "type": "quantitative", "scale": {"domain": [0, 100], "nice": false, "zero": false}, "axis": null}}},
    {"data": {"values": [{"e":849.37,"i":100},{"e":849.37,"i":0}]},
     "mark": {"type": "point", "shape": "M-0.95,0.85L0.25,-0.85M-0.25,0.85L0.95,-0.85", "filled": false, "stroke": "#111", "strokeWidth": 1.2, "size": 196, "opacity": 1},
     "encoding": {"x": {"field": "e", "type": "quantitative", "scale": {"domain": [890, 849.37], "range": [0, 245], "nice": false, "zero": false}, "axis": null},
                  "y": {"field": "i", "type": "quantitative", "scale": {"domain": [0, 100], "nice": false, "zero": false}, "axis": null}}}
  ]},
  {"resolve": {"axis": {"x": "independent", "y": "independent"}},
   "layer": [
    {"data": {"values": [{"e":415.04,"i":15.6},{"e":414.6,"i":15.6},{"e":414.2,"i":15.7},{"e":413.8,"i":15.8},{"e":413.4,"i":16.1},{"e":413.1,"i":16.8},{"e":412.85,"i":18.2},{"e":412.65,"i":20.6},{"e":412.45,"i":25.5},{"e":412.3,"i":31.5},{"e":412.15,"i":39.5},{"e":412.0,"i":48.5},{"e":411.85,"i":57.5},{"e":411.72,"i":63.0},{"e":411.62,"i":63.4},{"e":411.5,"i":60.0},{"e":411.35,"i":52.5},{"e":411.2,"i":43.5},{"e":411.05,"i":35.0},{"e":410.9,"i":27.0},{"e":410.75,"i":21.8},{"e":410.55,"i":17.6},{"e":410.3,"i":15.5},{"e":410.0,"i":14.3},{"e":409.6,"i":13.4},{"e":409.2,"i":12.9},{"e":408.8,"i":12.6},{"e":408.2,"i":12.5},{"e":407.7,"i":12.5},{"e":407.3,"i":12.9},{"e":407.0,"i":13.6},{"e":406.7,"i":14.6},{"e":406.4,"i":15.7},{"e":406.15,"i":17.0},{"e":405.95,"i":19.2},{"e":405.8,"i":21.5},{"e":405.65,"i":26.0},{"e":405.5,"i":32.5},{"e":405.38,"i":40.0},{"e":405.25,"i":52.0},{"e":405.12,"i":66.2},{"e":405.0,"i":78.5},{"e":404.92,"i":84.1},{"e":404.82,"i":81.0},{"e":404.72,"i":73.0},{"e":404.6,"i":60.5},{"e":404.47,"i":46.5},{"e":404.35,"i":35.0},{"e":404.2,"i":26.0},{"e":404.05,"i":20.1},{"e":403.85,"i":16.6},{"e":403.6,"i":15.0},{"e":403.3,"i":13.8},{"e":403.0,"i":12.9},{"e":402.6,"i":12.1},{"e":402.1,"i":11.6},{"e":401.6,"i":11.2},{"e":401.02,"i":10.9}]},
     "mark": {"type": "line", "interpolate": "monotone", "color": "#111", "strokeWidth": 1.8},
     "encoding": {
      "x": {"field": "e", "type": "quantitative", "scale": {"domain": [415.31, 400], "range": [245, 491.6], "nice": false, "zero": false},
            "axis": {"orient": "bottom", "values": [415,412.5,410,407.5,405,402.5,400], "format": "d", "labelExpr": "datum.value % 5 === 0 ? datum.label : ''", "tickSize": {"condition": {"test": "datum.value % 5 === 0", "value": -7}, "value": -4}, "domain": false, "labelFontSize": 20, "labelBaseline": "middle", "labelPadding": 21.5, "labelOffset": -2, "title": null}},
      "y": {"field": "i", "type": "quantitative", "scale": {"domain": [0, 100], "nice": false, "zero": false}, "axis": null}
     }},
    {"data": {"values": [{"e":405.06,"i":88.5,"t":"Cd-3d"},{"e":412.02,"i":65.5,"t":"Cd-3d"}]},
     "mark": {"type": "text", "fontSize": 20, "align": "right", "baseline": "alphabetic", "color": "#111"},
     "encoding": {"x": {"field": "e", "type": "quantitative", "scale": {"domain": [415.31, 400], "range": [245, 491.6], "nice": false, "zero": false}, "axis": null},
                  "y": {"field": "i", "type": "quantitative", "scale": {"domain": [0, 100], "nice": false, "zero": false}, "axis": null}, "text": {"field": "t"}}},
    {"data": {"values": [{"e":416.05,"i":78.8,"t":"Δ"},{"e":413.04,"i":78.8,"t":"= 450.11 eV"}]},
     "mark": {"type": "text", "fontSize": 20.5, "align": "left", "baseline": "alphabetic", "color": "#111"},
     "encoding": {"x": {"field": "e", "type": "quantitative", "scale": {"domain": [415.31, 400], "range": [245, 491.6], "nice": false, "zero": false}, "axis": null},
                  "y": {"field": "i", "type": "quantitative", "scale": {"domain": [0, 100], "nice": false, "zero": false}, "axis": null}, "text": {"field": "t"}}},
    {"data": {"values": [{"e":415.27,"i":78.8,"t":"E"}]},
     "mark": {"type": "text", "fontSize": 20.5, "fontStyle": "italic", "align": "left", "baseline": "alphabetic", "color": "#111"},
     "encoding": {"x": {"field": "e", "type": "quantitative", "scale": {"domain": [415.31, 400], "range": [245, 491.6], "nice": false, "zero": false}, "axis": null},
                  "y": {"field": "i", "type": "quantitative", "scale": {"domain": [0, 100], "nice": false, "zero": false}, "axis": null}, "text": {"field": "t"}}},
    {"data": {"values": [{"e":405.06,"i":87.4,"t":"5/2"},{"e":412.02,"i":64.4,"t":"3/2"}]},
     "mark": {"type": "text", "fontSize": 14, "align": "left", "baseline": "alphabetic", "color": "#111"},
     "encoding": {"x": {"field": "e", "type": "quantitative", "scale": {"domain": [415.31, 400], "range": [245, 491.6], "nice": false, "zero": false}, "axis": null},
                  "y": {"field": "i", "type": "quantitative", "scale": {"domain": [0, 100], "nice": false, "zero": false}, "axis": null}, "text": {"field": "t"}}},
    {"data": {"values": [{"e":414.50,"i":77.7,"t":"CL"}]},
     "mark": {"type": "text", "fontSize": 14.3, "align": "left", "baseline": "alphabetic", "color": "#111"},
     "encoding": {"x": {"field": "e", "type": "quantitative", "scale": {"domain": [415.31, 400], "range": [245, 491.6], "nice": false, "zero": false}, "axis": null},
                  "y": {"field": "i", "type": "quantitative", "scale": {"domain": [0, 100], "nice": false, "zero": false}, "axis": null}, "text": {"field": "t"}}},
    {"data": {"values": [{"e":415.31,"e2":404.9,"i":76.1,"i2":76.1},{"e":404.9,"e2":404.9,"i":77.2,"i2":67.8}]},
     "mark": {"type": "rule", "color": "#111", "strokeWidth": 1.3},
     "encoding": {"x": {"field": "e", "type": "quantitative", "scale": {"domain": [415.31, 400], "range": [245, 491.6], "nice": false, "zero": false}, "axis": null}, "x2": {"field": "e2"},
                  "y": {"field": "i", "type": "quantitative", "scale": {"domain": [0, 100], "nice": false, "zero": false}, "axis": null}, "y2": {"field": "i2"}}},
    {"data": {"values": [{"e":404.9,"i":76.1}]},
     "mark": {"type": "point", "shape": "M-1,-0.6L0,0L-1,0.6", "filled": false, "stroke": "#111", "strokeWidth": 1.3, "size": 100, "opacity": 1},
     "encoding": {"x": {"field": "e", "type": "quantitative", "scale": {"domain": [415.31, 400], "range": [245, 491.6], "nice": false, "zero": false}, "axis": null},
                  "y": {"field": "i", "type": "quantitative", "scale": {"domain": [0, 100], "nice": false, "zero": false}, "axis": null}}}
  ]}
 ]
}
]
}
